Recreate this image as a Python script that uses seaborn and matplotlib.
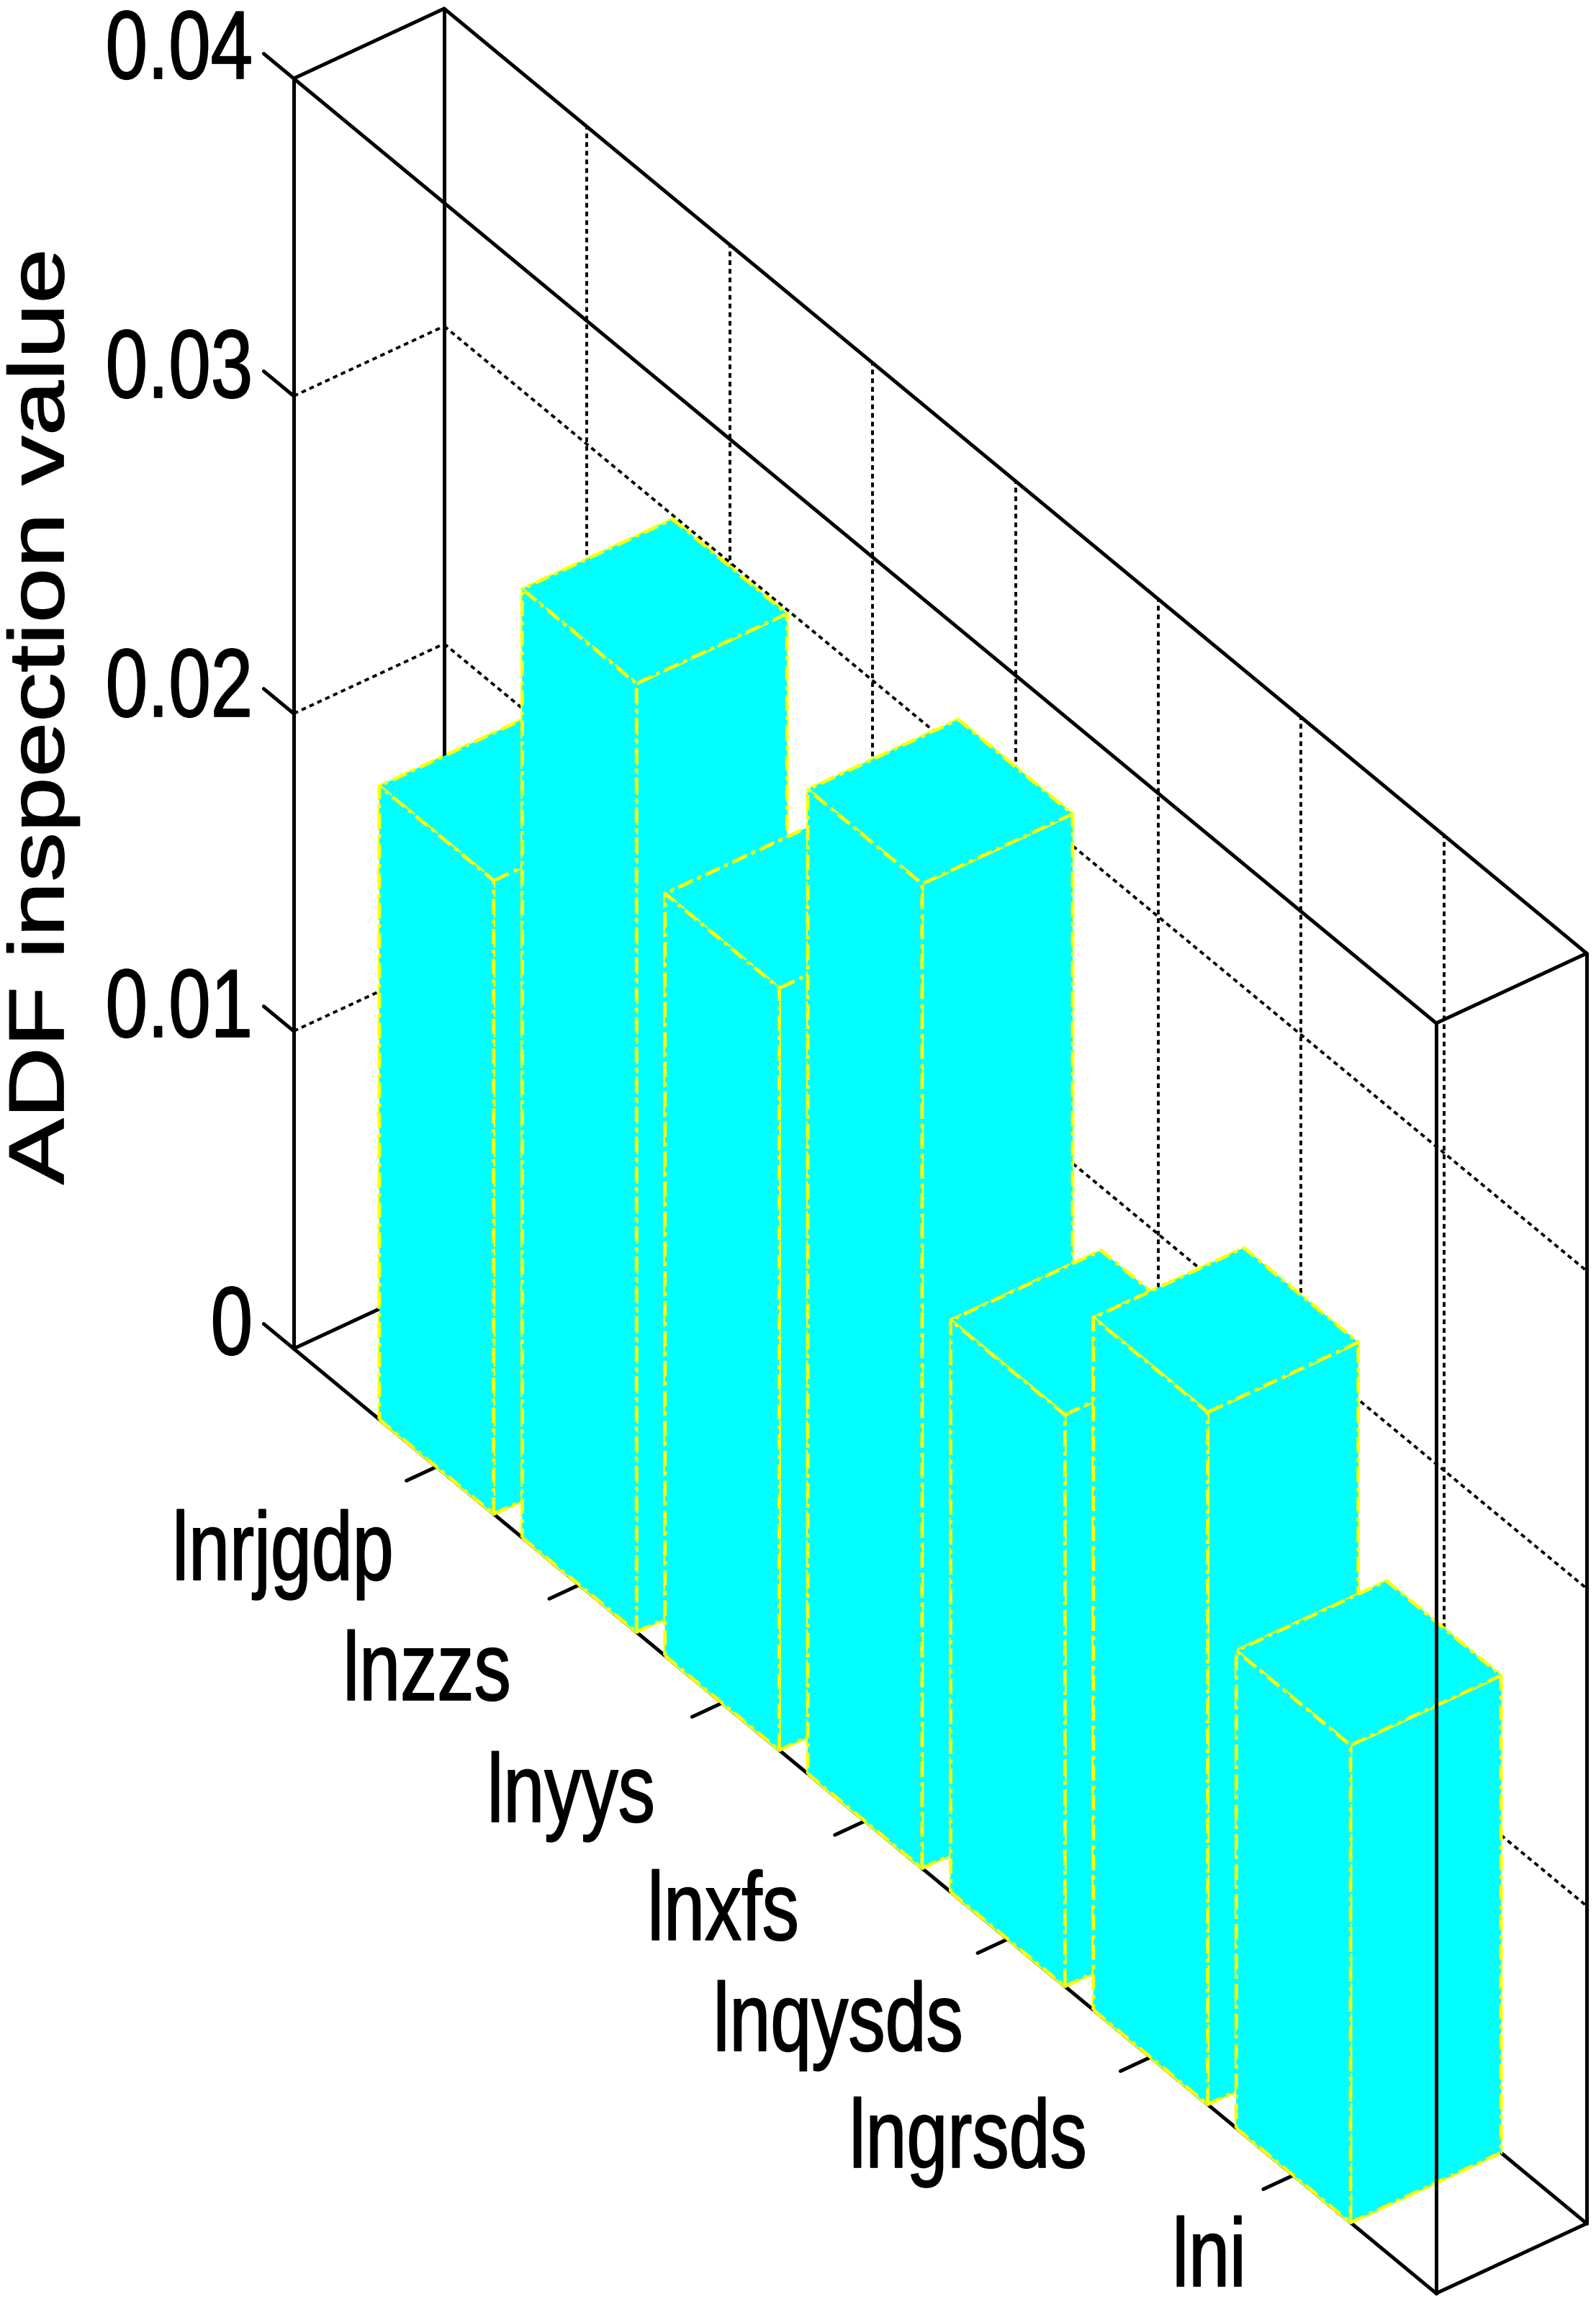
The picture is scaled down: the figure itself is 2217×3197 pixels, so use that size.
import numpy as np
import matplotlib
matplotlib.use("Agg")
import matplotlib.pyplot as plt
from matplotlib.patheffects import AbstractPathEffect
from matplotlib.transforms import Affine2D
import seaborn as sns

categories = ["lnrjgdp", "lnzzs", "lnyys", "lnxfs", "lnqysds", "lngrsds", "lni"]
adf_values = [0.01995, 0.02987, 0.0240, 0.0310, 0.0180, 0.0218, 0.01503]
z_ticks = [0, 0.01, 0.02, 0.03, 0.04]
z_tick_labels = ["0", "0.01", "0.02", "0.03", "0.04"]
y_label = "ADF inspection value"

W, H = 2217, 3197
X_LIM = (0, 8)
Y_LIM = (0, 1)
Z_LIM = (0, 0.04)
BAR_W = 0.8

# axonometric projection (pixels, y pointing down)
ORIGIN = (408, 1873)
X_VEC = (1587 / 8, 1312 / 8)
Y_VEC = (209, -97)
Z_PER_UNIT = 1764 / 0.04

# label layout in pixels
Z_LABEL_RIGHT = 351
Z_LABEL_Y = [1846, 1405, 960, 517, 74]
X_LABEL_RIGHT = [547, 710, 910, 1110, 1338, 1510, 1731]
X_LABEL_Y = [2159, 2326, 2495, 2659, 2813, 2975, 3140]

sns.set_theme(style="white")
plt.rcParams["font.family"] = ["Liberation Sans", "DejaVu Sans"]

fig = plt.figure(figsize=(W / 100, H / 100), dpi=100, facecolor="white")
ax = fig.add_axes([0, 0, 1, 1], projection="3d", computed_zorder=False)
ax.set_axis_off()
ax.set_proj_type("ortho")


def custom_proj():
    T = ax.transData.inverted().get_matrix()
    D = np.eye(4)
    D[0, 0], D[0, 3] = T[0, 0], T[0, 2]
    D[1, 1], D[1, 3] = T[1, 1], T[1, 2]
    P = np.array([
        [X_VEC[0], Y_VEC[0], 0.0, ORIGIN[0]],
        [-X_VEC[1], -Y_VEC[1], Z_PER_UNIT, H - ORIGIN[1]],
        [-1.0 / 8, 1.0, -1.0 / 0.04, -5.0],
        [0.0, 0.0, 0.0, 1.0],
    ])
    return D @ P


ax.get_proj = custom_proj


class Squeeze(AbstractPathEffect):
    """Scale the glyphs of a text about a pixel anchor (the reference text is stretched)."""

    def __init__(self, sx, sy, px, py, bold=1.2):
        super().__init__()
        self.t = Affine2D().translate(-px, -py).scale(sx, sy).translate(px, py)
        self.bold = bold

    def draw_path(self, renderer, gc, tpath, affine, rgbFace=None):
        gc0 = renderer.new_gc()
        gc0.copy_properties(gc)
        gc0.set_linewidth(self.bold)
        gc0.set_foreground(rgbFace)
        renderer.draw_path(gc0, tpath, affine + self.t, rgbFace)
        gc0.restore()


solid = dict(color="black", lw=3.6, ls="-", clip_on=False, solid_capstyle="round")
grid = dict(color="black", lw=2.8, ls=(0, (1.7, 1.4)), clip_on=False)
x0, x1 = X_LIM
y0, y1 = Y_LIM
z0, z1 = Z_LIM


def seg(a, b, zorder=2.5, **style):
    ax.plot([a[0], b[0]], [a[1], b[1]], [a[2], b[2]], zorder=zorder, **style)


# grid on the walls
for z in z_ticks[1:-1]:
    seg((x0, y0, z), (x0, y1, z), **grid)
    seg((x0, y1, z), (x1, y1, z), **grid)
for x in range(1, 8):
    seg((x, y1, z0), (x, y1, z1), **grid)

# box edges behind the bars
seg((x0, y0, z0), (x0, y0, z1), **solid)
seg((x0, y1, z0), (x0, y1, z1), **solid)
seg((x1, y1, z0), (x1, y1, z1), **solid)
seg((x0, y0, z0), (x1, y0, z0), **solid)
seg((x0, y1, z0), (x1, y1, z0), **solid)
seg((x0, y0, z0), (x0, y1, z0), **solid)
seg((x1, y0, z0), (x1, y1, z0), **solid)
seg((x0, y1, z1), (x1, y1, z1), **solid)
seg((x0, y0, z1), (x0, y1, z1), **solid)
seg((x1, y0, z1), (x1, y1, z1), **solid)

# ticks
for z in z_ticks:
    seg((x0 - 0.21, y0, z), (x0, y0, z), **solid)
for x in range(1, 8):
    seg((x, y0 - 0.2, z0), (x, y0, z0), **solid)

# bars, far to near
for i, v in enumerate(adf_values):
    col = ax.bar3d(i + 1 - BAR_W / 2, y0, z0, BAR_W, y1 - y0, v, color="#00FFFF", shade=False,
                   edgecolor="#FFFF00", linewidth=3.4, linestyle=(0, (4.5, 1.6, 1.1, 1.6)),
                   zorder=3 + i)
    col.set_clip_on(False)

# box edges in front of the bars
seg((x1, y0, z0), (x1, y0, z1), zorder=20, **solid)
seg((x0, y0, z1), (x1, y0, z1), zorder=20, **solid)

# text
for lab, yy in zip(z_tick_labels, Z_LABEL_Y):
    fig.text(Z_LABEL_RIGHT / W, 1 - yy / H, lab, ha="right", va="center", fontsize=97, color="black",
             path_effects=[Squeeze(0.78, 1, Z_LABEL_RIGHT, H - yy)])
for lab, xr, yy in zip(categories, X_LABEL_RIGHT, X_LABEL_Y):
    fig.text(xr / W, 1 - yy / H, lab, ha="right", va="center", fontsize=97, color="black",
             path_effects=[Squeeze(0.76, 1, xr, H - yy)])
fig.text(110 / W, 1 - 995 / H, y_label, rotation=90, ha="right", va="center", fontsize=78, color="black",
         path_effects=[Squeeze(1, 1.27, 110, H - 995)])

fig.savefig("out.png", dpi=100)
